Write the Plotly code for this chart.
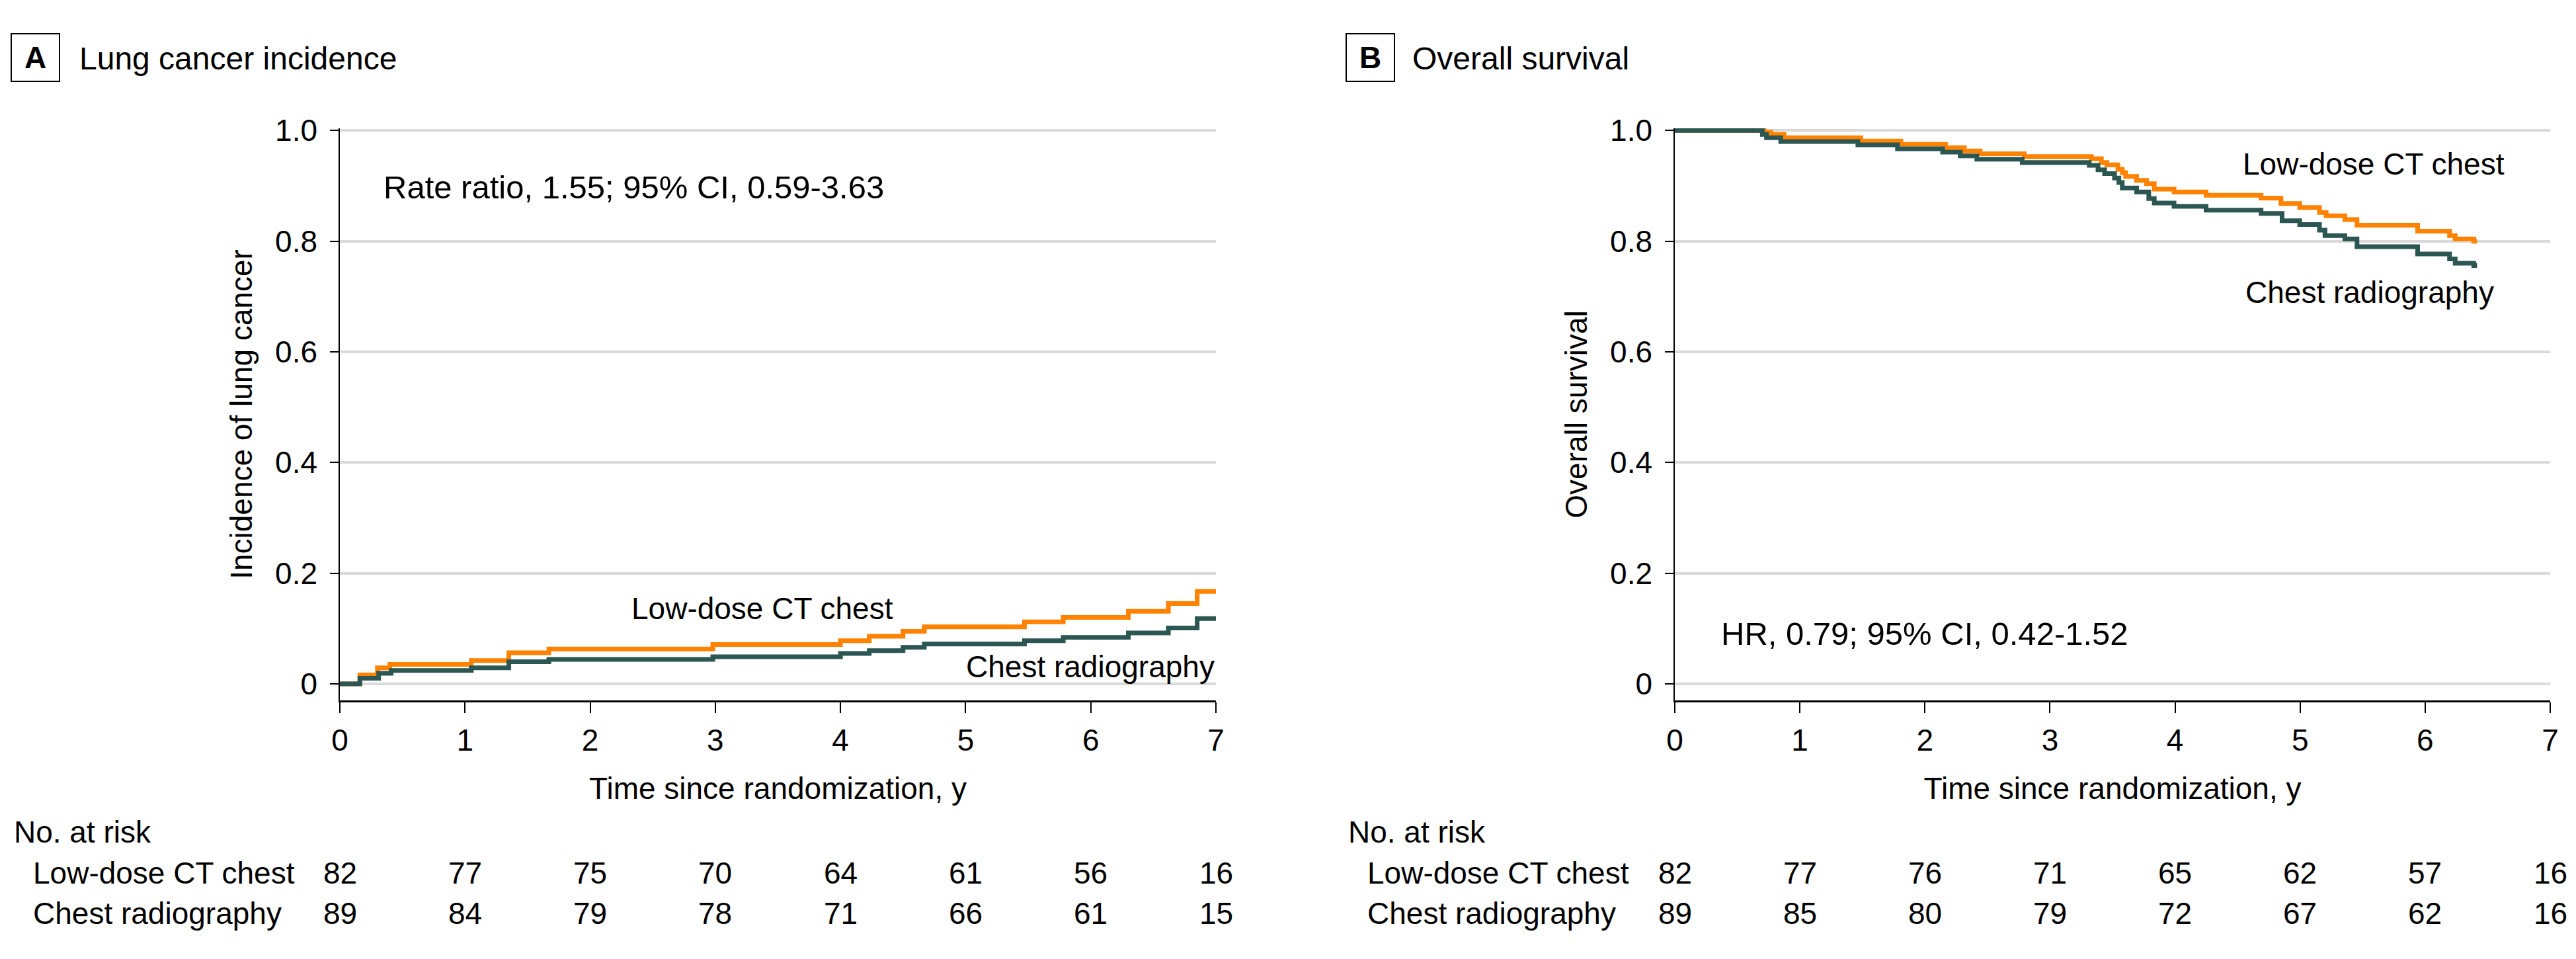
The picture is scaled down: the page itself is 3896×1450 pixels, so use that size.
import plotly.graph_objects as go

# ---------------- data ----------------
years = [0, 1, 2, 3, 4, 5, 6, 7]
ytick_vals = [0, 0.2, 0.4, 0.6, 0.8, 1.0]
ytick_text = ["0", "0.2", "0.4", "0.6", "0.8", "1.0"]

# Panel A: cumulative incidence of lung cancer (step functions)
a_ct_t = [0, 0.16, 0.30, 0.40, 1.05, 1.35, 1.67, 2.98, 4.00, 4.23, 4.50, 4.67, 5.47, 5.78, 6.30, 6.62, 6.85, 7.0]
a_ct_y = [0, 0.016, 0.029, 0.035, 0.042, 0.056, 0.063, 0.071, 0.078, 0.086, 0.095, 0.103, 0.112, 0.120, 0.131, 0.145, 0.167, 0.167]
a_cx_t = [0, 0.16, 0.31, 0.41, 1.05, 1.35, 1.67, 2.98, 4.00, 4.23, 4.50, 4.67, 5.47, 5.78, 6.30, 6.62, 6.85, 7.0]
a_cx_y = [0, 0.010, 0.019, 0.024, 0.029, 0.040, 0.044, 0.049, 0.055, 0.060, 0.066, 0.072, 0.078, 0.084, 0.092, 0.101, 0.118, 0.118]

# Panel B: overall survival (Kaplan-Meier)
b_ct_t = [0, 0.715, 0.768, 0.874, 1.487, 1.808, 2.164, 2.315, 2.442, 2.794, 3.331, 3.411, 3.455, 3.543,
          3.578, 3.605, 3.693, 3.772, 3.834, 3.992, 4.248, 4.688, 4.847, 4.997, 5.155, 5.208, 5.358, 5.455,
          5.940, 6.195, 6.240, 6.389, 6.415]
b_ct_y = [1.0, 0.997, 0.993, 0.987, 0.981, 0.975, 0.969, 0.963, 0.958, 0.953, 0.949, 0.942, 0.938, 0.930,
          0.924, 0.917, 0.910, 0.904, 0.894, 0.889, 0.883, 0.878, 0.868, 0.861, 0.852, 0.846, 0.839, 0.829,
          0.818, 0.810, 0.804, 0.800, 0.800]
b_cx_t = [0, 0.700, 0.733, 0.847, 1.464, 1.781, 2.142, 2.283, 2.415, 2.778, 3.314, 3.384, 3.437, 3.516,
          3.551, 3.578, 3.693, 3.790, 3.834, 3.992, 4.248, 4.688, 4.856, 4.997, 5.155, 5.199, 5.358, 5.455,
          5.940, 6.195, 6.240, 6.389, 6.415]
b_cx_y = [1.0, 0.993, 0.987, 0.980, 0.974, 0.967, 0.961, 0.954, 0.948, 0.942, 0.937, 0.929, 0.922, 0.914,
          0.906, 0.896, 0.889, 0.877, 0.869, 0.863, 0.856, 0.850, 0.837, 0.830, 0.820, 0.810, 0.804, 0.790,
          0.777, 0.768, 0.760, 0.756, 0.756]

# Numbers at risk
a_risk_ct = [82, 77, 75, 70, 64, 61, 56, 16]
a_risk_cx = [89, 84, 79, 78, 71, 66, 61, 15]
b_risk_ct = [82, 77, 76, 71, 65, 62, 57, 16]
b_risk_cx = [89, 85, 80, 79, 72, 67, 62, 16]

group_ct = "Low-dose CT chest"
group_cx = "Chest radiography"

# ---------------- style ----------------
FONT = "Liberation Sans, Arial, sans-serif"
FS = 46
ORANGE = "#FF8200"
GREEN = "#2B5651"
GRID = "#D9D9D9"
W, H = 3896, 1450
LW = 7
OFF = 8  # page body margin offset of the plot div


def px_x(p):
    return (p - OFF) / W


def px_y(p):
    return 1 - (p - OFF) / H


fig = go.Figure()

fig.add_trace(go.Scatter(x=a_ct_t, y=a_ct_y, mode="lines", line=dict(color=ORANGE, width=LW, shape="hv"),
                         xaxis="x", yaxis="y", showlegend=False))
fig.add_trace(go.Scatter(x=a_cx_t, y=a_cx_y, mode="lines", line=dict(color=GREEN, width=LW, shape="hv"),
                         xaxis="x", yaxis="y", showlegend=False))
fig.add_trace(go.Scatter(x=b_ct_t, y=b_ct_y, mode="lines", line=dict(color=ORANGE, width=LW, shape="hv"),
                         xaxis="x2", yaxis="y2", showlegend=False))
fig.add_trace(go.Scatter(x=b_cx_t, y=b_cx_y, mode="lines", line=dict(color=GREEN, width=LW, shape="hv"),
                         xaxis="x2", yaxis="y2", showlegend=False))

# plot area geometry (screen pixels)
ax_left, ax_right = 514, 1839
bx_left, bx_right = 2533, 3857
y_top_px, y_bot_px = 194, 1059
ydom = [px_y(y_bot_px), px_y(y_top_px)]
yrange = [-0.03, 1.004]

xaxis_common = dict(range=[0, 7], tickvals=years, ticks="outside", ticklen=16, tickwidth=1.5,
                    tickcolor="black", showline=True, linecolor="black", linewidth=3,
                    showgrid=False, zeroline=False, tickfont=dict(family=FONT, size=FS, color="black"),
                    title=dict(text="Time since randomization, y", font=dict(family=FONT, size=FS, color="black"),
                               standoff=32),
                    automargin=False, fixedrange=True, ticklabelstandoff=2)
yaxis_common = dict(range=yrange, tickvals=ytick_vals, ticktext=ytick_text, ticks="outside", ticklen=13,
                    tickwidth=1.5, tickcolor="black", showline=True, linecolor="black", linewidth=1.5,
                    showgrid=True, gridcolor=GRID, gridwidth=4, zeroline=False,
                    tickfont=dict(family=FONT, size=FS, color="black"), domain=ydom, fixedrange=True,
                    automargin=False, ticklabelstandoff=10)

fig.update_layout(
    width=W, height=H, paper_bgcolor="white", plot_bgcolor="white",
    margin=dict(l=0, r=0, t=0, b=0, autoexpand=False), showlegend=False,
    font=dict(family=FONT, size=FS, color="black"),
    xaxis=dict(xaxis_common, domain=[px_x(ax_left), px_x(ax_right)], anchor="y"),
    yaxis=dict(yaxis_common, anchor="x",
               title=dict(text="Incidence of lung cancer", font=dict(family=FONT, size=FS, color="black"),
                          standoff=20)),
    xaxis2=dict(xaxis_common, domain=[px_x(bx_left), px_x(bx_right)], anchor="y2"),
    yaxis2=dict(yaxis_common, anchor="x2",
                title=dict(text="Overall survival", font=dict(family=FONT, size=FS, color="black"),
                           standoff=20)),
)

ann = []


def txt(text, x, y, xref, yref, xanchor="left", yanchor="middle", size=FS, **kw):
    ann.append(dict(text=text, x=x, y=y, xref=xref, yref=yref, xanchor=xanchor, yanchor=yanchor,
                    showarrow=False, font=dict(family=FONT, size=size, color="black"), **kw))


# panel letters and titles
for letter, bx, title, tx in [("A", 16, "Lung cancer incidence", 118), ("B", 2035, "Overall survival", 2134)]:
    ann.append(dict(text="<b>%s</b>" % letter, x=px_x(bx), y=px_y(50), xref="paper", yref="paper",
                    xanchor="left", yanchor="top", showarrow=False, width=71, height=70,
                    bordercolor="black", borderwidth=2, borderpad=0,
                    font=dict(family=FONT, size=FS, color="black")))
    txt(title, px_x(tx), px_y(88), "paper", "paper", size=48)

# in-plot labels
txt("Rate ratio, 1.55; 95% CI, 0.59-3.63", 0.34, 0.898, "x", "y", size=49)
txt(group_ct, 2.32, 0.136, "x", "y")
txt(group_cx, 7.0, 0.031, "x", "y", xanchor="right")
txt("HR, 0.79; 95% CI, 0.42-1.52", 0.36, 0.091, "x2", "y2", size=49)
txt(group_ct, 4.53, 0.940, "x2", "y2")
txt(group_cx, 4.55, 0.707, "x2", "y2")

# numbers at risk
row_y = [px_y(1258), px_y(1320), px_y(1381)]
for xr, left_px, rct, rcx in [("x", 19, a_risk_ct, a_risk_cx), ("x2", 2037, b_risk_ct, b_risk_cx)]:
    txt("No. at risk", px_x(left_px), row_y[0], "paper", "paper")
    txt(group_ct, px_x(left_px + 29), row_y[1], "paper", "paper")
    txt(group_cx, px_x(left_px + 29), row_y[2], "paper", "paper")
    for t, v in zip(years, rct):
        txt(str(v), t, row_y[1], xr, "paper", xanchor="center")
    for t, v in zip(years, rcx):
        txt(str(v), t, row_y[2], xr, "paper", xanchor="center")

fig.update_layout(annotations=ann)
fig.write_html("out.html")
